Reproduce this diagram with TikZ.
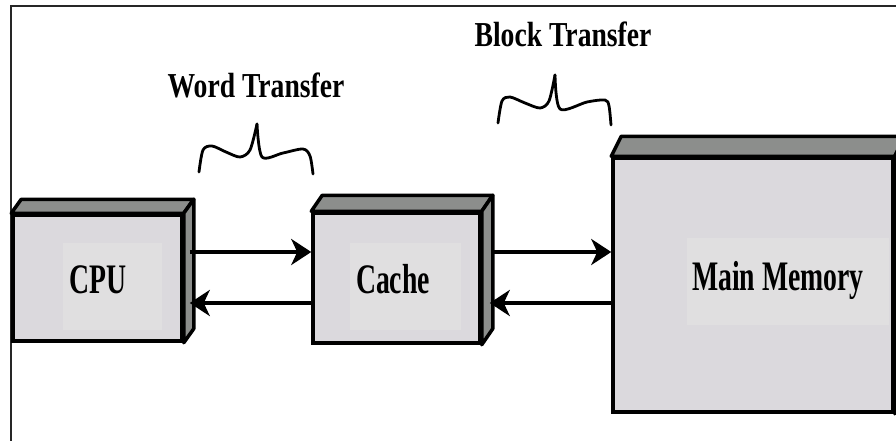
\documentclass[tikz,border=0pt]{standalone}
\usepackage{fontspec}
\usetikzlibrary{arrows.meta}
\newfontfamily\boxfont[FakeStretch=0.66]{Liberation Serif}
\newfontfamily\xferfont[FakeStretch=0.79]{Liberation Serif}
\definecolor{frontgray}{RGB}{219,217,221}
\definecolor{sidegray}{RGB}{140,142,140}
\definecolor{textbg}{RGB}{224,223,224}
\tikzset{
  box/.style={draw=black, line width=3.5pt, fill=frontgray, inner sep=0pt, line join=miter},
  boxside/.style={draw=black, line width=3.5pt, fill=sidegray, line join=round},
  boxlabel/.style={font=\boxfont\bfseries\fontsize{42}{42}\selectfont, anchor=base, inner sep=0pt},
  xferlabel/.style={font=\xferfont\bfseries\fontsize{35}{35}\selectfont, anchor=base, inner sep=0pt},
  arr/.style={line width=3.5pt, -{Stealth[length=20pt,width=26pt,inset=6pt]}},
  brace/.style={line width=2.8pt, line cap=round, line join=round},
  frame/.style={line width=2pt, draw=black!85}
}
\newcommand\threedbox[3]{%
  \draw[boxside] (#1.north west) -- ++(#2,#3) -- ([shift={(#2,#3)}]#1.north east) -- (#1.north east) -- cycle;
  \draw[boxside] (#1.north east) -- ++(#2,#3) -- ([shift={(#2,#3)}]#1.south east) -- (#1.south east) -- cycle;
}
\begin{document}
\begin{tikzpicture}[x=1pt,y=-1pt]
\useasboundingbox (0,0) rectangle (896,441);
% frame
\draw[frame] (11,441) -- (11,6) -- (896,6);
% boxes (front faces)
\node[box, minimum width=169pt, minimum height=126pt] (cpu) at (97.5,278) {};
\node[box, minimum width=167pt, minimum height=130pt] (cache) at (396.5,278) {};
\node[box, minimum width=280pt, minimum height=254pt] (mem) at (753,285) {};
\threedbox{cpu}{10}{-14}
\threedbox{cache}{11}{-16}
\threedbox{mem}{10}{-20}
% light text backgrounds
\fill[textbg] (63,243) rectangle (162,330);
\fill[textbg] (350,243) rectangle (461,330);
\fill[textbg] (687,238) rectangle (889,325);
% labels
\node[boxlabel] (cpulab) at (98,293) {CPU};
\node[boxlabel] (cachelab) at (393,293) {Cache};
\node[boxlabel] (memlab) at (778,290) {Main Memory};
\node[xferlabel] (word) at (256,98) {Word Transfer};
\node[xferlabel] (block) at (563,47) {Block Transfer};
% arrows
\draw[arr] ([xshift=6pt,yshift=26pt]cpu.east) -- ([yshift=26pt]cache.west);
\draw[arr] ([yshift=-25pt]cache.west) -- ([xshift=6pt,yshift=-25pt]cpu.east);
\draw[arr] ([xshift=11pt,yshift=26pt]cache.east) -- ([yshift=33pt]mem.west);
\draw[arr] ([yshift=-18pt]mem.west) -- ([xshift=8pt,yshift=-25pt]cache.east);
% braces
\draw[brace] plot[smooth, tension=0.5] coordinates {(199,172) (203,150) (212,146) (226,152) (240,157) (250,150) (257,124)};
\draw[brace] plot[smooth, tension=0.5] coordinates {(257,124) (262,157) (283,153) (303,149) (310,156) (313,174)};
\draw[brace] plot[smooth, tension=0.5] coordinates {(498,123) (502,101) (510,97) (525,103) (540,108) (549,101) (555,75)};
\draw[brace] plot[smooth, tension=0.5] coordinates {(555,75) (560,109) (587,102) (605,100) (609,106) (611,125)};
\end{tikzpicture}
\end{document}
